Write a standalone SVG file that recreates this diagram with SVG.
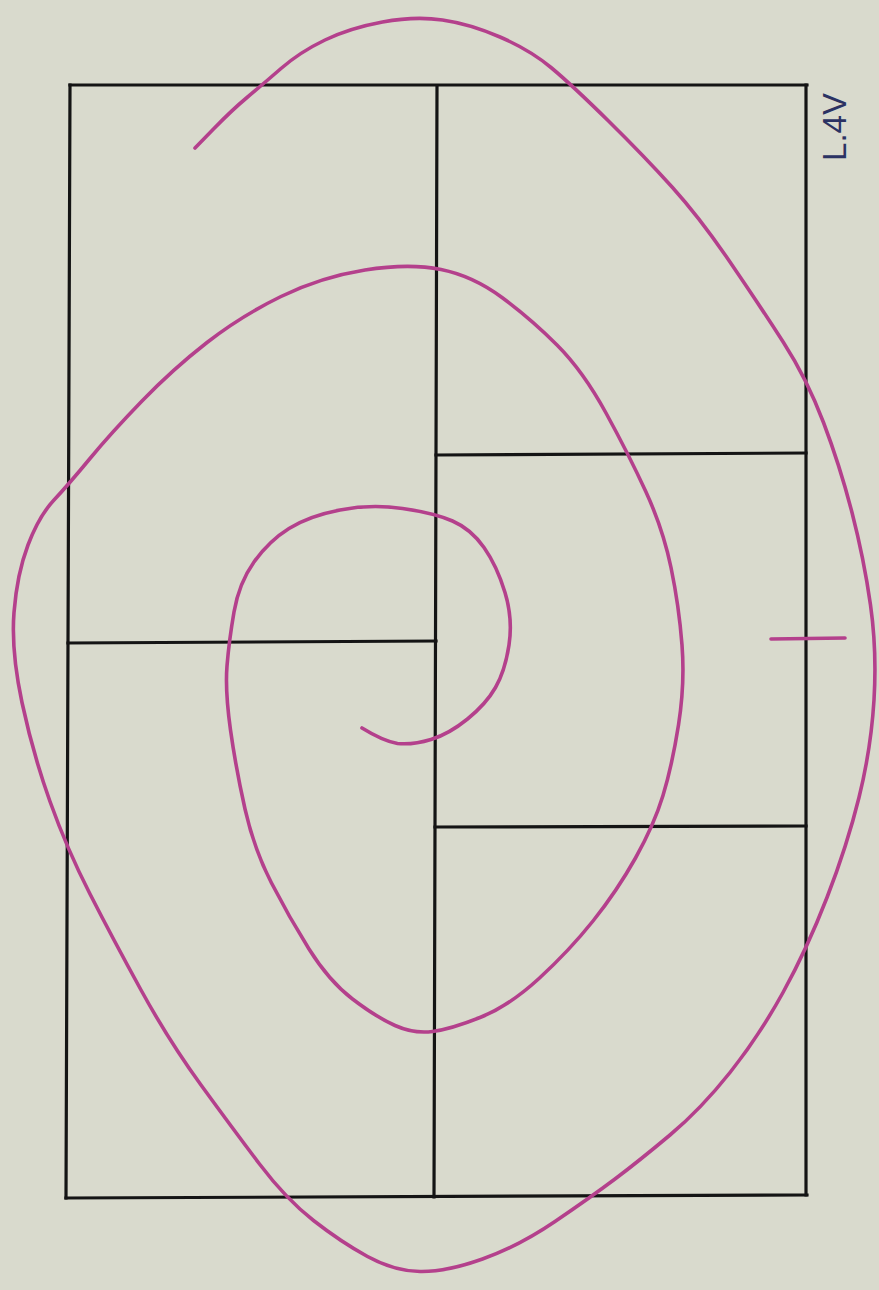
<svg xmlns="http://www.w3.org/2000/svg" width="879" height="1290" viewBox="0 0 879 1290">
<style>
.frame{stroke:#141414;stroke-width:3.2;stroke-linecap:square;fill:none}
.pen{stroke:#b4408c;stroke-width:3.6;fill:none;stroke-linecap:round;stroke-linejoin:round}
.note{font-family:"Liberation Sans",sans-serif;font-size:33px;fill:#2b3263}
</style>
<rect width="879" height="1290" fill="#d9dacd"/>
<g id="frame">
<line class="frame" x1="70" y1="85" x2="807" y2="85"/>
<line class="frame" x1="70" y1="85" x2="66" y2="1198"/>
<line class="frame" x1="66" y1="1198" x2="807" y2="1195"/>
<line class="frame" x1="806" y1="85" x2="806" y2="1195"/>
<line class="frame" x1="437" y1="86" x2="434" y2="1197"/>
<line class="frame" x1="68" y1="643" x2="436" y2="641"/>
<line class="frame" x1="436" y1="455" x2="806" y2="453"/>
<line class="frame" x1="435" y1="827" x2="806" y2="826"/>
</g>
<g id="spiral">
<path class="pen" d="M195 148 L213.5 129 Q232 110 247 97.5 T281 68.5 T325 40 T382.5 22 T442.5 20 T500 37 T551 67.5 T608.5 121 T672.5 187.5 T730 262 T783.5 342.5 T823.5 422.5 T852 512.5 T870.5 605 T874 700 T859 797.5 T827 897.5 T783 992.5 T730 1072.5 T670 1135 T615 1179 T555 1221.5 T482.5 1259 T420 1271.5 T367.5 1256.5 T313.5 1220.5 T259.5 1164 T201 1085 T141 990 T90 894 T50 801.5 T22 702.5 T14 612.5 T28 545 T54 500 T90 458.5 T142 401 T207 342.5 T281 296.5 T365 270 T441 269.5 T502 297.5 T557 345 T606 413 T646 492 T671 567.5 T682 645 T678.5 725 T663 795.5 T635.5 858 T593 921 T539 978.5 T480 1017.5 T432.5 1031.5 T395 1025.5 T352.5 999 T309 949 T271.5 883 T245 809 T230.5 730 T227 666 T234 612 T254 562 T289 528.5 T340 510 T402.5 508.5 T452.5 521 T484 547.5 T505 592.5 T509 645 T495.5 687.5 T467.5 719 T431 739.5 T397.5 743.5 Q383 741 362 728"/>
<line class="pen" x1="771" y1="639" x2="845" y2="638" stroke-width="4.5"/>
</g>
<g id="label">
<text class="note" transform="translate(846,127) rotate(-90)" text-anchor="middle">L.4V</text>
</g>
</svg>
